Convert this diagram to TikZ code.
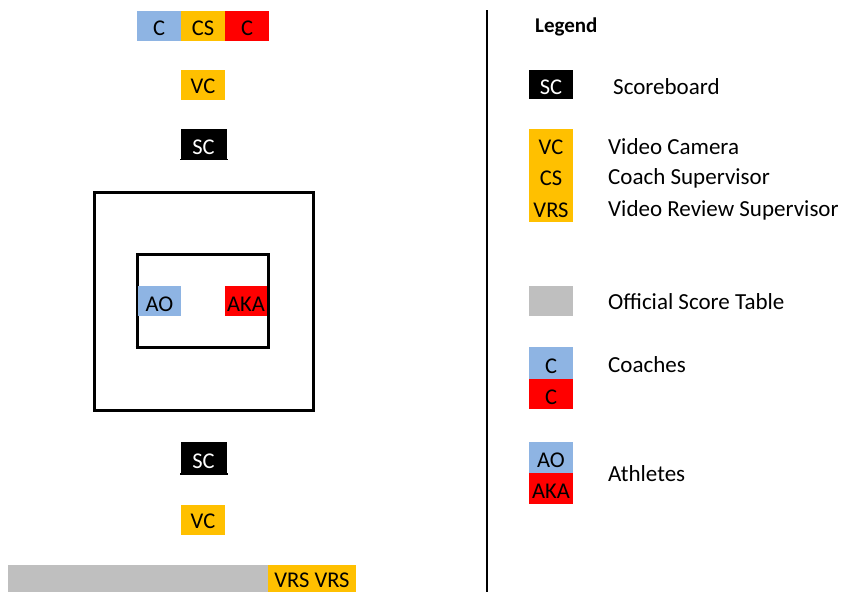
\documentclass[tikz,border=0pt]{standalone}
\usepackage{fontspec}
\setmainfont{Carlito}
\definecolor{cblue}{HTML}{8EB4E3}
\definecolor{corange}{HTML}{FFC000}
\definecolor{cred}{HTML}{FF0000}
\definecolor{cgray}{HTML}{BFBFBF}
\tikzset{
  tag/.style={inner sep=0pt, minimum width=44pt, minimum height=30pt, text=black,
    font=\fontsize{22.5}{26}\selectfont, text height=20pt, text depth=0pt, anchor=center},
  blue tag/.style={tag, fill=cblue},
  orange tag/.style={tag, fill=corange},
  red tag/.style={tag, fill=cred},
  black tag/.style={tag, fill=black, text=white},
  plain tag/.style={tag, text height=14.5pt},
  legtext/.style={anchor=west, inner sep=0pt, font=\fontsize{23}{27}\selectfont},
  court/.style={draw=black, line width=3pt},
}
\begin{document}
\begin{tikzpicture}[x=1pt,y=-1pt]
\useasboundingbox[fill=white] (0,0) rectangle (843,592);

% coaches and coach supervisor at the top
\node[blue tag]   (ctop1) at (159,25.5) {C};
\node[orange tag] (cstop) at (203,25.5) {CS};
\node[red tag]    (ctop2) at (247,25.5) {C};

% top camera and scoreboard
\node[orange tag, text height=17pt] (vctop) at (203,85) {VC};
\node[black tag, minimum width=46pt, minimum height=31pt] (sctop) at (203.5,144) {SC};
\draw[line width=1.5pt] (sctop.south west) -- ([xshift=1.5pt]sctop.south east);

% competition area and mat
\draw[court] (94,192) rectangle (313,410);
\draw[court] (137,348) -- (137,254) -- (268,254) -- (268,348);
\draw[court] (135.5,347) -- (269.5,347);

% athletes
\node[blue tag, minimum width=43pt] (ao)  at (159.5,301) {AO};
\node[red tag,  minimum width=42pt] (aka) at (246,301) {AKA};

% bottom scoreboard and camera
\node[black tag, minimum width=46pt, minimum height=32pt] (scbot) at (203.5,458) {SC};
\draw[line width=1.5pt] (scbot.south west) -- ([xshift=1.5pt]scbot.south east);
\node[orange tag, text height=17pt] (vcbot) at (203,519.5) {VC};

% official score table with video review supervisors
\fill[cgray] (8,565) rectangle (268,592);
\node[orange tag, minimum width=88pt, minimum height=27pt, text height=18pt] (vrs) at (312,578.5) {VRS VRS};

% divider
\draw[line width=1.5pt] (487,10) -- (487,592);

% legend
\node[anchor=west, inner sep=0pt, font=\fontsize{21}{25}\selectfont\bfseries] (legend) at (535,27) {Legend};

\node[black tag, minimum width=44pt, minimum height=29pt] (lsc) at (551,84.5) {SC};
\node[legtext] (lsctxt) at (613,87) {Scoreboard};

\fill[corange] (529,129) rectangle (573,222);
\node[plain tag] (lvc)  at (551,147.5) {VC};
\node[plain tag] (lcs)  at (551,178.5) {CS};
\node[plain tag] (lvrs) at (551,210) {VRS};
\node[legtext] (lvctxt)  at (608,147) {Video Camera};
\node[legtext] (lcstxt)  at (608,178) {Coach Supervisor};
\node[legtext] (lvrstxt) at (608,210) {Video Review Supervisor};

\node[tag, fill=cgray, minimum height=30pt] (lost) at (551,301) {};
\node[legtext] (losttxt) at (608,302) {Official Score Table};

\node[blue tag, minimum height=32pt] (lc1) at (551,363) {C};
\node[red tag,  minimum height=30pt] (lc2) at (551,394) {C};
\node[legtext] (lctxt) at (608,365) {Coaches};

\node[blue tag, minimum height=31pt] (lao)  at (551,457.5) {AO};
\node[red tag,  minimum height=31pt] (laka) at (551,488.5) {AKA};
\node[legtext] (lathtxt) at (608,474) {Athletes};
\end{tikzpicture}
\end{document}
